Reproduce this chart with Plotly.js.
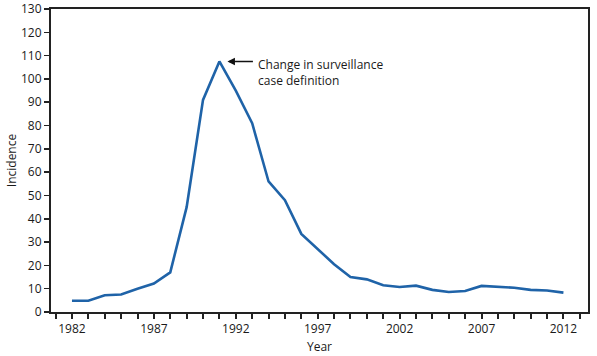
<!DOCTYPE html>
<html>
<head>
<meta charset="utf-8">
<script src="https://cdn.plot.ly/plotly-3.0.1.min.js"></script>
<style>html,body{margin:0;padding:0;background:#fff}#chart{width:597px;height:356px}</style>
</head>
<body>
<div id="chart"></div>
<script>
const years = [1982,1983,1984,1985,1986,1987,1988,1989,1990,1991,1992,1993,1994,1995,1996,1997,1998,1999,2000,2001,2002,2003,2004,2005,2006,2007,2008,2009,2010,2011,2012];
const incidence = [4.8,4.8,7.2,7.5,10,12.2,17,45,91,107.5,95,81,56,48,33.5,27,20.5,15,14,11.5,10.7,11.3,9.5,8.6,9,11.2,10.7,10.4,9.5,9.2,8.3];
const xTickVals = [1982,1987,1992,1997,2002,2007,2012];
const yTickVals = [0,10,20,30,40,50,60,70,80,90,100,110,120,130];
const noteText = 'Change in surveillance<br>case definition';

const font = {family: 'Open Sans, sans-serif', size: 12, color: '#1a1a1a'};

Plotly.newPlot('chart', [{
  x: years, y: incidence, type: 'scatter', mode: 'lines',
  line: {color: '#1f63a8', width: 2.6}, hoverinfo: 'skip'
}], {
  width: 597, height: 356,
  margin: {l: 51, r: 9, t: 9, b: 44},
  paper_bgcolor: '#fff', plot_bgcolor: '#fff',
  font: font,
  showlegend: false,
  xaxis: {
    range: [1980.72, 2013.5], showgrid: false, zeroline: false,
    showline: true, mirror: true, linecolor: '#222', linewidth: 2,
    tickmode: 'array', tickvals: xTickVals, ticktext: xTickVals.map(String),
    ticks: 'outside', ticklen: 5, tickwidth: 2, tickcolor: '#222',
    minor: {tickmode: 'linear', tick0: 1982, dtick: 1, ticks: 'outside', ticklen: 5, tickwidth: 2, tickcolor: '#222'},
    title: {text: 'Year', font: font, standoff: 6}
  },
  yaxis: {
    range: [0, 130], showgrid: false, zeroline: false,
    showline: true, mirror: true, linecolor: '#222', linewidth: 2,
    tickmode: 'array', tickvals: yTickVals,
    ticks: 'outside', ticklen: 5, tickwidth: 1.5, tickcolor: '#222',
    title: {text: 'Incidence', font: font, standoff: 2}
  },
  annotations: [
    {x: 1991, y: 107.5, xref: 'x', yref: 'y', text: '', showarrow: true,
     ax: 35, ay: 0, arrowhead: 2, arrowsize: 1, arrowwidth: 1.5, arrowcolor: '#111', standoff: 8},
    {x: 1993.25, y: 110.9, xref: 'x', yref: 'y', text: noteText, showarrow: false,
     xanchor: 'left', yanchor: 'top', align: 'left', font: font}
  ]
}, {displayModeBar: false, staticPlot: true});
</script>
</body>
</html>
